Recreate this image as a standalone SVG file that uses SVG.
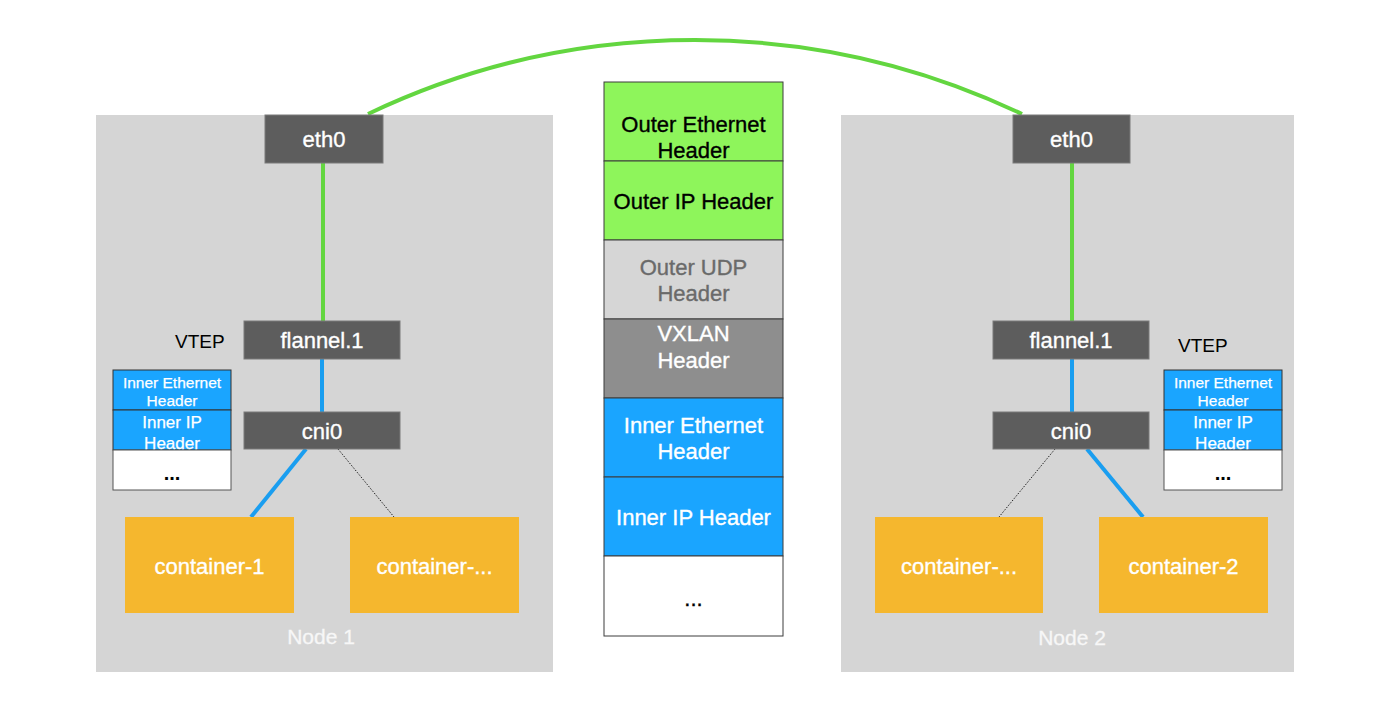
<svg xmlns="http://www.w3.org/2000/svg" width="1393" height="711" viewBox="0 0 1393 711">
<style>
text{font-family:"Liberation Sans",Arial,sans-serif;text-anchor:middle}
.panel{fill:#d5d5d5}
.dark{fill:#5d5d5d;stroke:#7a7a7a;stroke-width:1}
.wt{fill:#fff;stroke:#fff;stroke-width:0.35;font-size:22px}
.cont{fill:#f5b72e}
.lbl{fill:#f7f7f7;stroke:#f7f7f7;stroke-width:0.3;font-size:21px}
.vtep{fill:#000;font-size:19px;text-anchor:start}
.blue{fill:#1aa5ff;stroke:#333;stroke-width:1}
.white{fill:#fff;stroke:#555;stroke-width:1}
.s1{fill:#fff;stroke:#fff;stroke-width:0.25;font-size:15.5px}
.s2{fill:#fff;stroke:#fff;stroke-width:0.25;font-size:17px}
.dots{fill:#000;font-size:20px;font-weight:bold}
.col{stroke:#3c3c3c;stroke-width:1}
.mid{font-size:22px;stroke-width:0.35}
.gline{stroke:#63d640;stroke-width:4;fill:none}
.bline{stroke:#1a9ef0;stroke-width:4;fill:none}
.dline{stroke:#222;stroke-width:1;stroke-dasharray:1.5 1.5;fill:none}
</style>

<g id="node1-panel">
<rect class="panel" x="96" y="115" width="457" height="557"/>
<text class="lbl" x="321" y="644">Node 1</text>
</g>
<g id="node2-panel">
<rect class="panel" x="841" y="115" width="453" height="557"/>
<text class="lbl" x="1072" y="645">Node 2</text>
</g>

<g id="connectors">
<path class="gline" d="M368,114 A760,760 0 0 1 1022,114"/>
<line class="gline" x1="323" y1="163" x2="323" y2="321"/>
<line class="bline" x1="322" y1="359" x2="322" y2="412"/>
<line class="bline" x1="306" y1="449" x2="251" y2="517"/>
<line class="dline" x1="338" y1="449" x2="394" y2="517"/>
<line class="gline" x1="1072" y1="163" x2="1072" y2="321"/>
<line class="bline" x1="1072" y1="359" x2="1072" y2="412"/>
<line class="dline" x1="1055" y1="449" x2="999" y2="517"/>
<line class="bline" x1="1087" y1="449" x2="1143" y2="517"/>
</g>

<g id="eth0-1"><rect class="dark" x="265" y="115" width="118" height="48"/><text class="wt" x="324" y="147">eth0</text></g>
<g id="flannel-1"><rect class="dark" x="244" y="321" width="156" height="38"/><text class="wt" x="322" y="348">flannel.1</text></g>
<g id="vtep-1"><text class="vtep" x="175" y="348">VTEP</text></g>
<g id="cni0-1"><rect class="dark" x="244" y="412" width="156" height="37"/><text class="wt" x="322" y="439">cni0</text></g>
<g id="stack-1">
<rect class="blue" x="113" y="370" width="118" height="40"/>
<rect class="blue" x="113" y="410" width="118" height="40"/>
<rect class="white" x="113" y="450" width="118" height="40"/>
<text class="s1" x="172" y="387.5">Inner Ethernet</text>
<text class="s1" x="172" y="406">Header</text>
<text class="s2" x="172" y="428">Inner IP</text>
<text class="s2" x="172" y="448.5">Header</text>
<text class="dots" x="172" y="480">...</text>
</g>
<g id="container-1"><rect class="cont" x="125" y="517" width="169" height="96"/><text class="wt" x="209.5" y="574">container-1</text></g>
<g id="container-more-1"><rect class="cont" x="350" y="517" width="169" height="96"/><text class="wt" x="434.5" y="574">container-...</text></g>

<g id="eth0-2"><rect class="dark" x="1013" y="115" width="117" height="48"/><text class="wt" x="1071.5" y="147">eth0</text></g>
<g id="flannel-2"><rect class="dark" x="993" y="321" width="156" height="38"/><text class="wt" x="1071" y="348">flannel.1</text></g>
<g id="vtep-2"><text class="vtep" x="1178" y="352">VTEP</text></g>
<g id="cni0-2"><rect class="dark" x="993" y="412" width="156" height="37"/><text class="wt" x="1071" y="439">cni0</text></g>
<g id="stack-2">
<rect class="blue" x="1164" y="370" width="118" height="40"/>
<rect class="blue" x="1164" y="410" width="118" height="40"/>
<rect class="white" x="1164" y="450" width="118" height="40"/>
<text class="s1" x="1223" y="387.5">Inner Ethernet</text>
<text class="s1" x="1223" y="406">Header</text>
<text class="s2" x="1223" y="428">Inner IP</text>
<text class="s2" x="1223" y="448.5">Header</text>
<text class="dots" x="1223" y="480">...</text>
</g>
<g id="container-more-2"><rect class="cont" x="875" y="517" width="168" height="96"/><text class="wt" x="959" y="574">container-...</text></g>
<g id="container-2"><rect class="cont" x="1099" y="517" width="169" height="96"/><text class="wt" x="1183.5" y="574">container-2</text></g>

<g id="packet">
<rect class="col" fill="#8ef55b" x="604" y="82" width="179" height="79"/>
<rect class="col" fill="#8ef55b" x="604" y="161" width="179" height="79"/>
<rect class="col" fill="#d6d6d6" x="604" y="240" width="179" height="79"/>
<rect class="col" fill="#8e8e8e" x="604" y="319" width="179" height="79"/>
<rect class="col" fill="#1aa5ff" x="604" y="398" width="179" height="79"/>
<rect class="col" fill="#1aa5ff" x="604" y="477" width="179" height="79"/>
<rect class="col" fill="#ffffff" x="604" y="556" width="179" height="80"/>
<text class="mid" fill="#000" stroke="#000" x="693.5" y="132">Outer Ethernet</text>
<text class="mid" fill="#000" stroke="#000" x="693.5" y="158">Header</text>
<text class="mid" fill="#000" stroke="#000" x="693.5" y="209">Outer IP Header</text>
<text class="mid" fill="#6a6a6a" stroke="#6a6a6a" x="693.5" y="275">Outer UDP</text>
<text class="mid" fill="#6a6a6a" stroke="#6a6a6a" x="693.5" y="301">Header</text>
<text class="mid" fill="#fff" stroke="#fff" x="693.5" y="341">VXLAN</text>
<text class="mid" fill="#fff" stroke="#fff" x="693.5" y="368">Header</text>
<text class="mid" fill="#fff" stroke="#fff" x="693.5" y="433">Inner Ethernet</text>
<text class="mid" fill="#fff" stroke="#fff" x="693.5" y="459">Header</text>
<text class="mid" fill="#fff" stroke="#fff" x="693.5" y="525">Inner IP Header</text>
<text class="mid" fill="#000" stroke="#000" x="693.5" y="606">...</text>
</g>
</svg>
